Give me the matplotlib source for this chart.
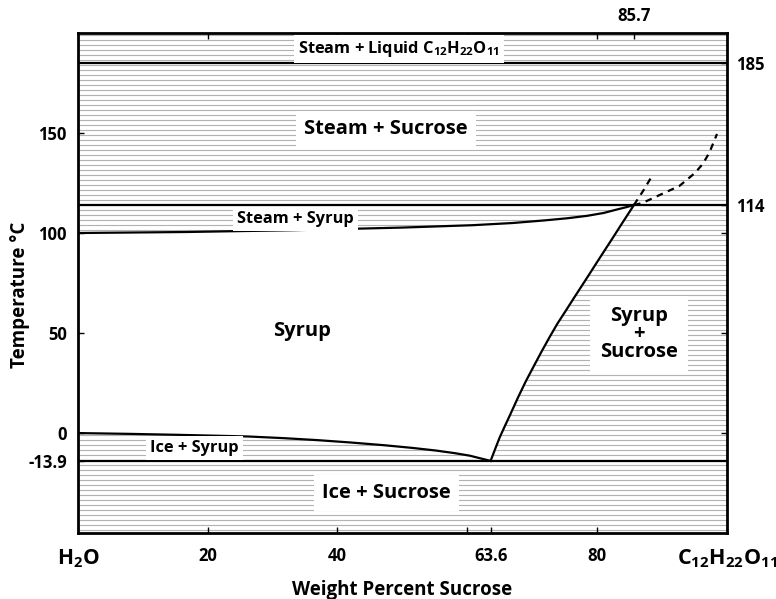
import matplotlib
matplotlib.use('Agg')
import matplotlib.pyplot as plt
import numpy as np

plt.rcParams['font.family'] = ['Open Sans', 'DejaVu Sans']
plt.rcParams['font.weight'] = 'bold'
plt.rcParams['axes.labelweight'] = 'bold'
plt.rcParams['mathtext.fontset'] = 'custom'
plt.rcParams['mathtext.rm'] = 'Open Sans:bold'
plt.rcParams['mathtext.it'] = 'Open Sans:bold'
plt.rcParams['mathtext.bf'] = 'Open Sans:bold'

# phase boundaries (wt % sucrose, temperature °C)
boil_x = [0, 16.6, 33.2, 49.8, 60.8, 67.0, 71.9, 75.5, 78.5, 81.0, 82.9, 84.5, 85.7]
boil_t = [100, 100.5, 101.4, 102.7, 103.9, 105.0, 106.3, 107.4, 108.6, 110.0, 111.6, 112.9, 114]
freeze_x = [0, 8, 15.8, 21, 26.2, 31.5, 36.8, 42, 47.3, 51.5, 55.1, 58, 60.4, 63.6]
freeze_t = [0, -0.4, -0.9, -1.3, -1.7, -2.5, -3.5, -4.7, -6.1, -7.4, -8.7, -10.0, -11.3, -13.9]
solub_x = [63.6, 64.3, 65.0, 65.8, 66.55, 67.8, 69.0, 70.3, 71.5, 72.7, 73.9, 75.2,
           76.4, 77.6, 78.8, 80.0, 81.3, 82.5, 83.7, 84.7, 85.7]
solub_t = [-13.9, -8.0, -2.2, 3.5, 8.7, 17.6, 25.7, 33.7, 41.0, 48.0, 54.7, 61.2,
           67.3, 73.3, 79.3, 85.4, 91.9, 97.9, 104.0, 109.0, 114]
dash1_x = [85.7, 86.4, 87.2, 88.3]
dash1_t = [114, 117.5, 121.5, 127.5]
dash2_x = [85.7, 87.0, 90.0, 92.7, 95.1, 96.3, 97.3, 98.5]
dash2_t = [114, 115, 119.5, 123.5, 130, 134.5, 140, 149.5]
eutectic_t = -13.9
boil_point = 114
melt_t = 185

fig = plt.figure(figsize=(7.76, 5.99), dpi=100)
ax = fig.add_axes([0.1005, 0.110, 0.836, 0.835])
ax.set_xlim(0, 100)
ax.set_ylim(-50, 200)

# horizontal hatching everywhere, syrup field blanked out below
for y in np.arange(-48.5, 200, 2.5):
    ax.axhline(y, color='#b2b2b2', lw=0.8, zorder=0)

poly_x = boil_x + solub_x[::-1] + freeze_x[::-1]
poly_t = boil_t + solub_t[::-1] + freeze_t[::-1]
ax.fill(poly_x, poly_t, color='white', zorder=1, lw=0)

lw = 1.6
ax.axhline(melt_t, color='black', lw=lw, zorder=3)
ax.axhline(boil_point, color='black', lw=lw, zorder=3)
ax.axhline(eutectic_t, color='black', lw=lw, zorder=3)
ax.plot(boil_x, boil_t, color='black', lw=lw, zorder=3, solid_joinstyle='round')
ax.plot(freeze_x, freeze_t, color='black', lw=lw, zorder=3, solid_joinstyle='round')
ax.plot(solub_x, solub_t, color='black', lw=lw, zorder=3, solid_joinstyle='round')
ax.plot(dash1_x, dash1_t, color='black', lw=lw, ls=(0, (3, 2.5)), zorder=3)
ax.plot(dash2_x, dash2_t, color='black', lw=lw, ls=(0, (3, 2.5)), zorder=3)

box = dict(facecolor='white', edgecolor='none', boxstyle='square,pad=0.25')
small = 11.8
big = 14.5
ax.text(49.5, 192, 'Steam + Liquid C$_{12}$H$_{22}$O$_{11}$', fontsize=small,
        ha='center', va='center', bbox=box, zorder=4)
ax.text(47.5, 152, 'Steam + Sucrose', fontsize=big, ha='center', va='center',
        bbox=dict(facecolor='white', edgecolor='none', boxstyle='square,pad=0.4'), zorder=4)
ax.text(33.5, 107, 'Steam + Syrup', fontsize=small, ha='center', va='center',
        bbox=box, zorder=4)
ax.text(34.5, 51, 'Syrup', fontsize=big, ha='center', va='center', zorder=4)
ax.text(86.5, 49.5, 'Syrup\n+\nSucrose', fontsize=big, ha='center', va='center',
        linespacing=0.85,
        bbox=dict(facecolor='white', edgecolor='none', boxstyle='square,pad=0.5'), zorder=4)
ax.text(18, -7.5, 'Ice + Syrup', fontsize=small, ha='center', va='center',
        bbox=box, zorder=4)
ax.text(47.5, -30, 'Ice + Sucrose', fontsize=big, ha='center', va='center',
        bbox=dict(facecolor='white', edgecolor='none', boxstyle='square,pad=0.4'), zorder=4)

for s in ax.spines.values():
    s.set_linewidth(2)
    s.set_zorder(5)

ax.set_xticks([0, 20, 40, 60, 63.6, 80, 100])
ax.set_xticklabels(['H$_2$O', '20', '40', '', '63.6', '80', 'C$_{12}$H$_{22}$O$_{11}$'])
ax.set_yticks([-13.9, 0, 50, 100, 150])
ax.set_yticklabels(['-13.9', '0', '50', '100', '150'])
ax.tick_params(direction='in', length=4, width=1, labelsize=12, pad=8)
ax.tick_params(axis='x', pad=10)
labels = ax.get_xticklabels()
labels[0].set_fontsize(15)
labels[-1].set_fontsize(15.5)

top = ax.secondary_xaxis('top')
top.set_xticks([20, 40, 60, 80, 85.7])
top.set_xticklabels(['', '', '', '', '85.7'])
top.tick_params(direction='in', length=4, width=1, labelsize=12, pad=6)

right = ax.secondary_yaxis('right')
right.set_yticks([0, 50, 100, 114, 185])
right.set_yticklabels(['', '', '', '114', '185'])
right.tick_params(direction='in', length=4, width=1, labelsize=12, pad=7)

ax.set_xlabel('Weight Percent Sucrose', fontsize=13.5, va='center')
ax.xaxis.set_label_coords(0.5, -0.114)
ax.set_ylabel('Temperature °C', fontsize=13.5, va='center')
ax.yaxis.set_label_coords(-0.089, 0.476)

fig.savefig('out.png', dpi=100)
